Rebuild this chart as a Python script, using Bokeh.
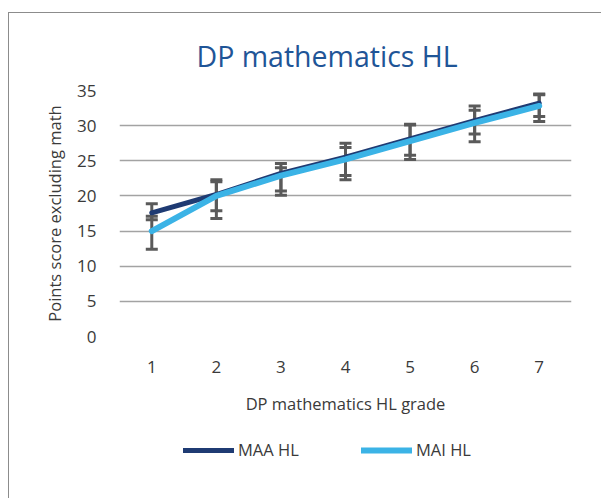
from bokeh.plotting import figure
from bokeh.layouts import column
from bokeh.models import (ColumnDataSource, Whisker, TeeHead, Legend, LegendItem,
                          Title, FixedTicker, Range1d)
from bokeh.embed import file_html
from bokeh.resources import INLINE

# ---- data ----
grades = [1, 2, 3, 4, 5, 6, 7]
maa_hl = [17.6, 20.2, 23.2, 25.5, 28.1, 30.7, 33.2]
mai_hl = [15.0, 20.0, 22.9, 25.2, 27.8, 30.4, 32.8]
maa_upper = [18.9, 22.3, 24.6, 27.5, 30.2, 32.8, 34.5]
maa_lower = [16.6, 17.9, 20.7, 22.9, 25.8, 28.8, 31.3]
mai_upper = [17.1, 22.0, 24.0, 26.9, 30.1, 32.2, 34.4]
mai_lower = [12.4, 16.8, 20.1, 22.3, 25.2, 27.7, 30.6]
y_ticks = [0, 5, 10, 15, 20, 25, 30, 35]

title_text = "DP mathematics HL"
x_label = "DP mathematics HL grade"
y_label = "Points score excluding math"
series_names = ["MAA HL", "MAI HL"]

FONT = "Open Sans"
NAVY = "#1f3b73"
SKY = "#3bb3e6"
BAR = "#5a5a5a"
TXT = "#3a3a3a"

src_maa = ColumnDataSource(dict(x=grades, y=maa_hl, upper=maa_upper, lower=maa_lower))
src_mai = ColumnDataSource(dict(x=grades, y=mai_hl, upper=mai_upper, lower=mai_lower))

# ---------------- main chart ----------------
p = figure(width=592, height=415, output_backend="svg", toolbar_location=None,
           x_range=Range1d(0.5, 7.5), y_range=Range1d(0, 35),
           min_border_left=110, min_border_right=30, min_border_top=77,
           min_border_bottom=92)
p.outline_line_color = None
p.background_fill_color = "white"
p.border_fill_color = "white"

p.xgrid.grid_line_color = None
p.ygrid.grid_line_color = "#a3a3a3"
p.ygrid.grid_line_width = 1.5

p.xaxis.ticker = FixedTicker(ticks=grades)
p.yaxis.ticker = FixedTicker(ticks=y_ticks)
for ax in (p.xaxis, p.yaxis):
    ax.axis_line_color = None
    ax.major_tick_line_color = None
    ax.minor_tick_line_color = None
    ax.major_tick_out = 0
    ax.major_tick_in = 0
    ax.major_label_text_font = FONT
    ax.major_label_text_font_size = "17px"
    ax.major_label_text_color = TXT
    ax.axis_label_text_font = FONT
    ax.axis_label_text_font_size = "16.5px"
    ax.axis_label_text_font_style = "normal"
    ax.axis_label_text_color = TXT
p.xaxis.major_label_standoff = 24
p.yaxis.major_label_standoff = 23
p.xaxis.axis_label = x_label
p.yaxis.axis_label = y_label
p.xaxis.axis_label_standoff = 16
p.yaxis.axis_label_standoff = 8

for src in (src_maa, src_mai):
    w = Whisker(source=src, base="x", upper="upper", lower="lower",
                line_color=BAR, line_width=3, level="underlay",
                upper_head=TeeHead(size=12, line_color=BAR, line_width=3),
                lower_head=TeeHead(size=12, line_color=BAR, line_width=3))
    p.add_layout(w)

p.line("x", "y", source=src_maa, line_color=NAVY, line_width=5, line_cap="round",
       line_join="round")
p.line("x", "y", source=src_mai, line_color=SKY, line_width=6, line_cap="round",
       line_join="round")

p.add_layout(Title(text=title_text, align="left", offset=77, standoff=32,
                   text_font=FONT, text_font_size="28.5px", text_color="#1f5597",
                   text_font_style="normal"), "above")

# ---------------- legend strip ----------------
lg = figure(width=592, height=70, output_backend="svg", toolbar_location=None,
            x_range=Range1d(-20, -19), y_range=Range1d(-20, -19),
            x_axis_type=None, y_axis_type=None,
            min_border_left=0, min_border_right=0, min_border_top=0, min_border_bottom=0)
lg.outline_line_color = None
lg.xgrid.grid_line_color = None
lg.ygrid.grid_line_color = None
lg.background_fill_color = "white"
lg.border_fill_color = "white"
l_maa = lg.line("x", "y", source=src_maa, line_color=NAVY, line_width=5, line_cap="round")
l_mai = lg.line("x", "y", source=src_mai, line_color=SKY, line_width=6, line_cap="round")

legend = Legend(items=[LegendItem(label=series_names[0], renderers=[l_maa]),
                       LegendItem(label=series_names[1], renderers=[l_mai])],
                orientation="horizontal", location=(64, 37),
                glyph_width=51, glyph_height=20, label_standoff=4,
                label_width=118, spacing=5, padding=0, margin=0,
                border_line_color=None, background_fill_alpha=0,
                label_text_font=FONT, label_text_font_size="16.5px",
                label_text_color=TXT)
lg.add_layout(legend, "center")

layout = column(p, lg, spacing=0, margin=(12, 0, 0, 8),
                styles={"border-left": "1px solid #8c8c8c", "border-top": "1px solid #8c8c8c"})

open("out.html", "w").write(file_html(layout, INLINE))
